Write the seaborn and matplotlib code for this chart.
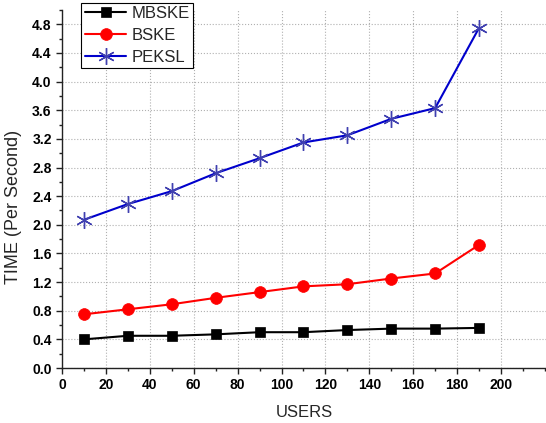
import matplotlib
matplotlib.use("Agg")
import matplotlib.pyplot as plt
import seaborn as sns
import pandas as pd
from matplotlib.ticker import MultipleLocator

users = [10, 30, 50, 70, 90, 110, 130, 150, 170, 190]
mbske = [0.40, 0.45, 0.45, 0.47, 0.50, 0.50, 0.53, 0.55, 0.55, 0.56]
bske = [0.75, 0.82, 0.89, 0.98, 1.06, 1.14, 1.17, 1.25, 1.32, 1.72]
peksl = [2.07, 2.29, 2.47, 2.72, 2.93, 3.15, 3.25, 3.48, 3.63, 4.75]

series = {"MBSKE": mbske, "BSKE": bske, "PEKSL": peksl}
rows = []
for name, vals in series.items():
    for u, v in zip(users, vals):
        rows.append({"USERS": u, "TIME": v, "series": name})
df = pd.DataFrame(rows)

sns.set_style("ticks")
plt.rcParams['font.family'] = ['Arial', 'Liberation Sans', 'DejaVu Sans']

fig = plt.figure(figsize=(5.46, 4.23), dpi=100)
ax = fig.add_axes([62/546, 1-368/423, 1-62/546, (368-10)/423])

palette = {"MBSKE": "black", "BSKE": "#ff0000", "PEKSL": "#0000cc"}
markers = {"MBSKE": "s", "BSKE": "o", "PEKSL": (6, 2, 0)}
sizes = {"MBSKE": 7.5, "BSKE": 8.5, "PEKSL": 12}
for name in series:
    sub = df[df["series"] == name]
    sns.lineplot(data=sub, x="USERS", y="TIME", ax=ax, color=palette[name],
                 marker=markers[name], markersize=sizes[name], linewidth=1.5,
                 markeredgecolor=("#4040b0" if name == "PEKSL" else palette[name]),
                 markeredgewidth=1.0 if name == "PEKSL" else 0.5,
                 label=name)

ax.xaxis.set_minor_locator(MultipleLocator(10))
ax.yaxis.set_minor_locator(MultipleLocator(0.2))
ax.set_xticks(list(range(0, 201, 20)))
ax.set_xlim(0, 220.5)
ax.set_yticks([round(0.4*i, 1) for i in range(13)])
ax.set_yticklabels([f"{0.4*i:.1f}" for i in range(13)])
ax.set_ylim(0, 5.0)
ax.grid(True, which="major", linestyle=":", color="#b0b0b0", linewidth=0.8)
ax.tick_params(which="major", direction="out", length=4, width=1, labelsize=10,
               colors="#222222", labelcolor="black")
ax.tick_params(which="minor", direction="out", length=2.5, width=1, colors="#222222")
for lab in ax.get_xticklabels() + ax.get_yticklabels():
    lab.set_fontweight("bold")
sns.despine(ax=ax, top=True, right=True)
for s in ["left", "bottom"]:
    ax.spines[s].set_linewidth(1.0)
    ax.spines[s].set_color("#222222")

ax.set_xlabel("USERS", fontsize=12, labelpad=9)
ax.set_ylabel("TIME (Per Second)", fontsize=13)
ax.yaxis.set_label_coords(-0.082, 0.45)

leg = ax.legend(loc="upper left", bbox_to_anchor=(0.04, 1.02), fontsize=12,
                frameon=True, fancybox=False, edgecolor="black", framealpha=1,
                borderpad=0.2, labelspacing=0.4, handlelength=2.5, handletextpad=0.3,
                borderaxespad=0)
leg.get_frame().set_linewidth(0.8)

fig.savefig("out.png", dpi=100)
